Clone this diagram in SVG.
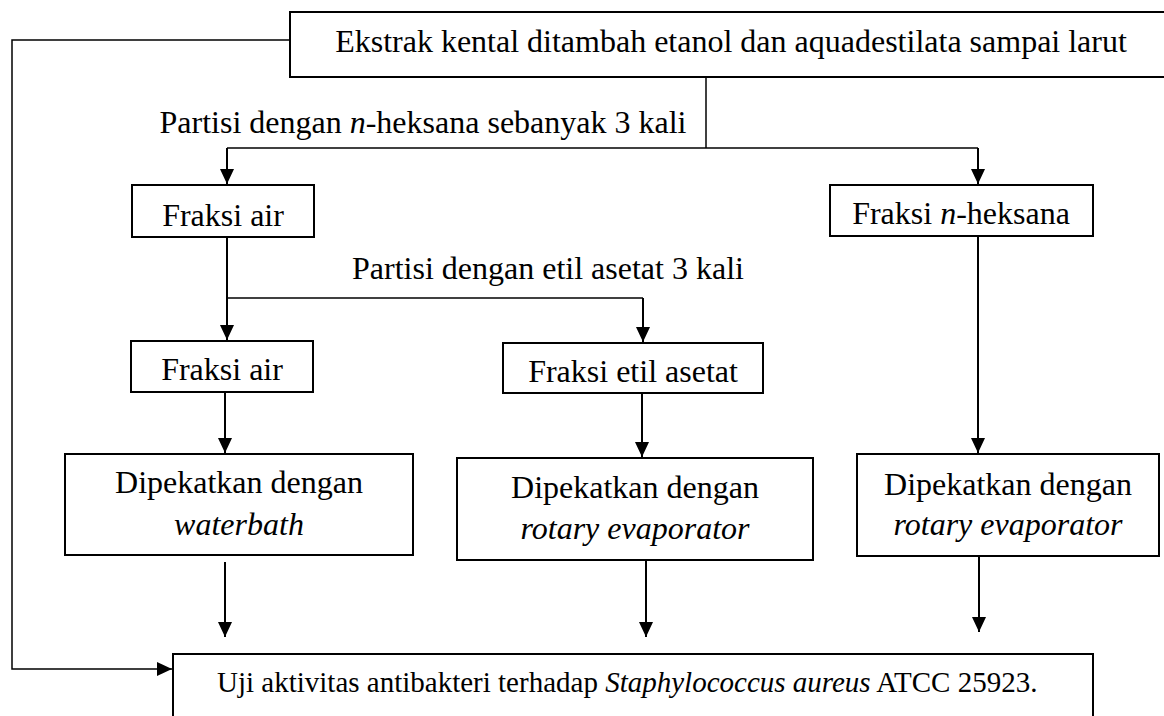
<svg xmlns="http://www.w3.org/2000/svg" width="1164" height="716" viewBox="0 0 1164 716">
<style>
.t{font-size:32px;fill:#000}
.m{text-anchor:middle}
.box{fill:#fff;stroke:#000;stroke-width:2}
.ln{fill:none;stroke:#000;stroke-width:2}
.th{fill:none;stroke:#000;stroke-width:1.5}
</style>
<defs>
<marker id="ah" markerUnits="userSpaceOnUse" markerWidth="16" markerHeight="16" viewBox="0 0 16 16" refX="15" refY="8" orient="auto">
<path d="M0,1 L15,8 L0,15 Z" fill="#000"/>
</marker>
</defs>
<rect width="1164" height="716" fill="#fff"/>
<g id="connectors">
<polyline class="th" points="290,40 12,40 12,669 172,669" marker-end="url(#ah)"/>
<line class="th" x1="706" y1="77" x2="706" y2="148"/>
<line class="th" x1="227" y1="148" x2="978" y2="148"/>
<line class="ln" x1="227" y1="148" x2="227" y2="184" marker-end="url(#ah)"/>
<line class="ln" x1="978" y1="148" x2="978" y2="184" marker-end="url(#ah)"/>
<line class="ln" x1="227" y1="237" x2="227" y2="340" marker-end="url(#ah)"/>
<line class="th" x1="227" y1="298" x2="643" y2="298"/>
<line class="ln" x1="643" y1="298" x2="643" y2="342" marker-end="url(#ah)"/>
<line class="ln" x1="225" y1="392" x2="225" y2="453" marker-end="url(#ah)"/>
<line class="ln" x1="642" y1="393" x2="642" y2="457" marker-end="url(#ah)"/>
<line class="ln" x1="978" y1="236" x2="978" y2="453" marker-end="url(#ah)"/>
<line class="ln" x1="225" y1="562" x2="225" y2="637" marker-end="url(#ah)"/>
<line class="ln" x1="646" y1="560" x2="646" y2="637" marker-end="url(#ah)"/>
<line class="ln" x1="979" y1="556" x2="979" y2="632" marker-end="url(#ah)"/>
</g>
<g id="nodes" font-family="Liberation Serif, serif">
<g id="n-ekstrak">
<rect class="box" x="290" y="12" width="900" height="65"/>
<text class="t m" x="731" y="52">Ekstrak kental ditambah etanol dan aquadestilata sampai larut</text>
</g>
<g id="l-partisi1">
<text class="t m" x="423" y="133">Partisi dengan <tspan font-style="italic">n</tspan>-heksana sebanyak 3 kali</text>
</g>
<g id="n-fraksi-air1">
<rect class="box" x="132" y="185" width="182" height="52"/>
<text class="t m" x="223" y="226">Fraksi air</text>
</g>
<g id="n-fraksi-heksana">
<rect class="box" x="830" y="185" width="263" height="51"/>
<text class="t m" x="961" y="224">Fraksi <tspan font-style="italic">n</tspan>-heksana</text>
</g>
<g id="l-partisi2">
<text class="t m" x="548" y="279">Partisi dengan etil asetat 3 kali</text>
</g>
<g id="n-fraksi-air2">
<rect class="box" x="131" y="341" width="182" height="51"/>
<text class="t m" x="222" y="380">Fraksi air</text>
</g>
<g id="n-fraksi-etil">
<rect class="box" x="503" y="343" width="260" height="50"/>
<text class="t m" x="633" y="382">Fraksi etil asetat</text>
</g>
<g id="n-dipekat1">
<rect class="box" x="65" y="454" width="348" height="101"/>
<text class="t m" x="239" y="493">Dipekatkan dengan</text>
<text class="t m" x="239" y="535" font-style="italic">waterbath</text>
</g>
<g id="n-dipekat2">
<rect class="box" x="457" y="458" width="356" height="102"/>
<text class="t m" x="635" y="498">Dipekatkan dengan</text>
<text class="t m" x="635" y="539" font-style="italic">rotary evaporator</text>
</g>
<g id="n-dipekat3">
<rect class="box" x="857" y="454" width="302" height="102"/>
<text class="t m" x="1008" y="495">Dipekatkan dengan</text>
<text class="t m" x="1008" y="535" font-style="italic">rotary evaporator</text>
</g>
<g id="n-uji">
<rect class="box" x="173" y="654" width="920" height="80"/>
<text class="t" x="217" y="692" style="font-size:29px">Uji aktivitas antibakteri terhadap <tspan font-style="italic">Staphylococcus aureus</tspan> ATCC 25923.</text>
</g>
</g>
</svg>
